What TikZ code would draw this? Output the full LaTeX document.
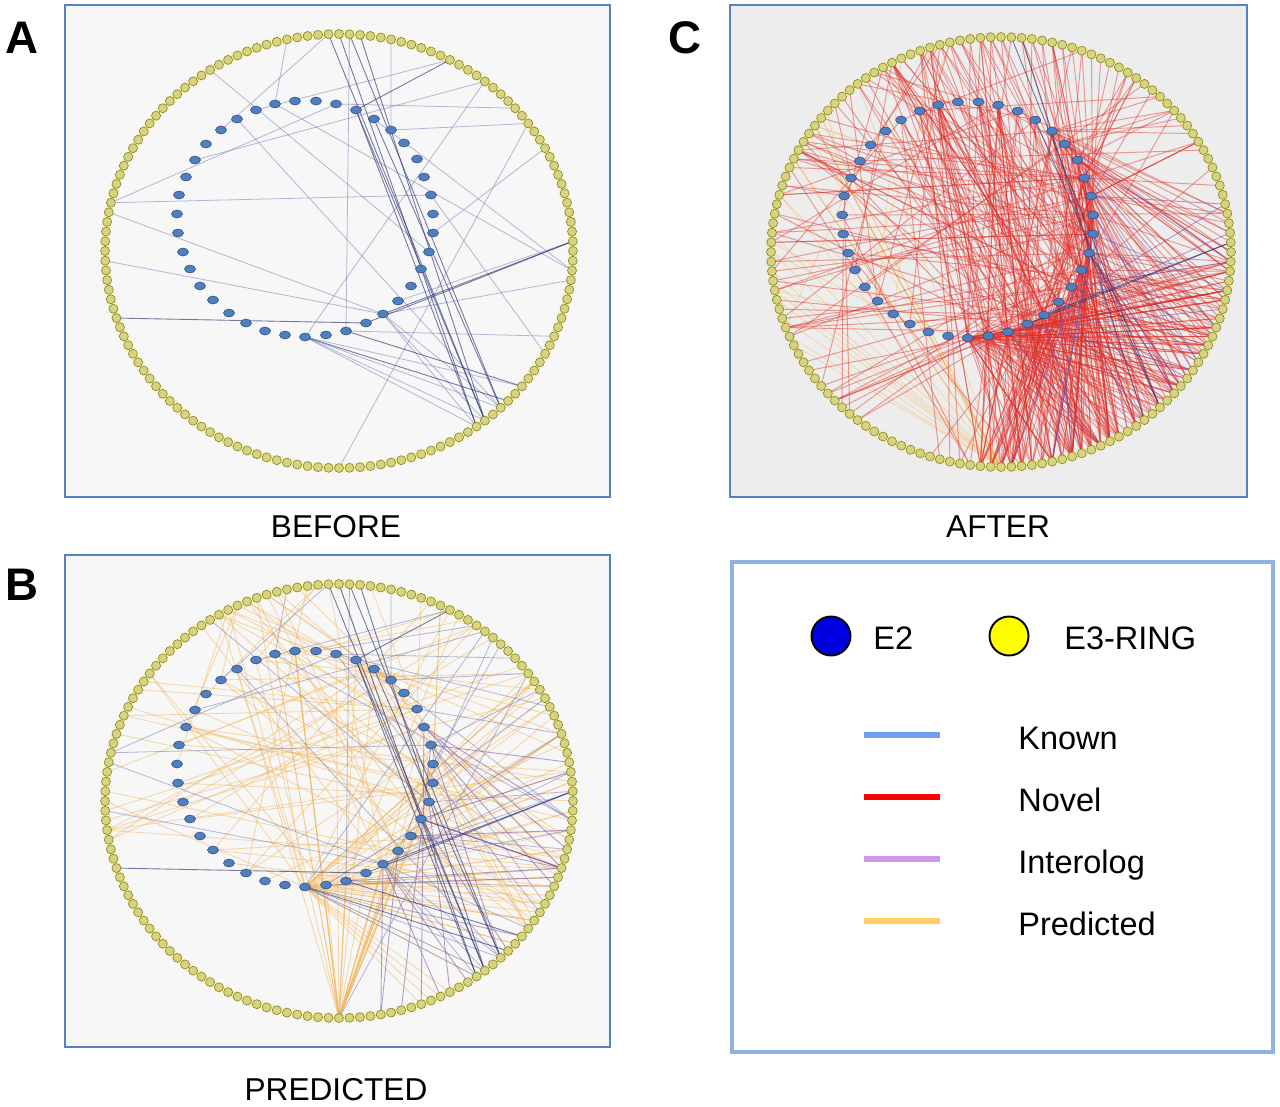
\documentclass[tikz,border=0pt]{standalone}
\usepackage{fontspec}
\setmainfont{Liberation Sans}
\usetikzlibrary{shapes.geometric}
\definecolor{boxc}{RGB}{84,130,192}
\definecolor{legc}{RGB}{142,180,227}
\definecolor{e3fill}{RGB}{216,212,124}
\definecolor{e3line}{RGB}{130,128,60}
\definecolor{e2fill}{RGB}{79,127,192}
\definecolor{e2line}{RGB}{45,75,125}
\definecolor{knownc}{RGB}{120,126,184}
\definecolor{knowndk}{RGB}{46,51,114}
\definecolor{novelc}{RGB}{226,46,40}
\definecolor{predc}{RGB}{243,182,90}
\definecolor{interc}{RGB}{122,79,160}
\definecolor{legblue}{RGB}{111,160,240}
\definecolor{legred}{RGB}{255,0,0}
\definecolor{legpurple}{RGB}{204,153,238}
\definecolor{legorange}{RGB}{255,204,102}
\definecolor{e2legend}{RGB}{0,0,224}
\definecolor{e3legend}{RGB}{255,255,0}
\tikzset{
  panelbox/.style={draw=boxc, line width=1.2pt},
  glow/.style={draw=yellow!75!white, line width=5pt, opacity=.35},
  e3dot/.style={circle, inner sep=0pt, minimum size=0.18cm, fill=e3fill, draw=e3line, line width=0.35pt},
  e2dot/.style={ellipse, inner sep=0pt, minimum width=0.22cm, minimum height=0.16cm, fill=e2fill, draw=e2line, line width=0.3pt},
  knownl/.style={draw=knownc, opacity=.55, line width=.45pt},
  knownd/.style={draw=knowndk, opacity=.65, line width=.5pt},
  novel/.style={draw=novelc, opacity=.45, line width=.55pt},
  pred/.style={draw=predc, opacity=.5, line width=.5pt},
  predl/.style={draw=predc, opacity=.4, line width=.5pt},
  inter/.style={draw=interc, opacity=.55, line width=.5pt},
  panellabel/.style={font=\bfseries\fontsize{26}{30}\selectfont, inner sep=0pt},
  caption/.style={font=\fontsize{18}{21}\selectfont, inner sep=0pt},
  legtext/.style={font=\fontsize{18.5}{22}\selectfont, anchor=base west, inner sep=0pt},
  legbar/.style={line width=3.4pt},
}
\def\innerlist{-102/-132,-83/-141,-64/-147,-44/-150,-23/-150,-3/-147,17/-141,35/-132,52/-121,65/-108,78/-92,85/-74,92/-56,94/-37,94/-18,90/1,82/18,72/35,59/50,44/63,27/72,7/80,-13/84,-34/86,-54/84,-74/80,-93/72,-110/62,-126/49,-139/35,-149/18,-156/1,-161/-18,-162/-37,-160/-56,-153/-74,-144/-91,-133/-107,-118/-121}
\def\Aedges{I39/O139,I24/O15,I3/O135,I9/O5,I2/O11,I37/O15,I6/O19,I9/O21,O70/O21,I15/O24,I19/O34,I8/O37,I3/O37,I20/O38,I22/O44,I13/O46,I24/O50,I24/O53,I24/O55,I24/O56,I20/O53,I20/O55,I20/O56,I13/O110,I6/O110,I20/O109,I20/O104,O127/I16,I22/O1,I1/O53}
\def\Adark{I7/O11,I20/O34,I21/O34,I21/O98,I7/O55,I7/O56,I8/O53,O139/O55,O0/O56,O1/O53,O2/O55,I22/O50,I24/O52}
\def\Cdark{I20/O34,I21/O34,O1/O53,O2/O55,I8/O53}
\newcommand\mkring[6]{%
  \foreach \dx/\dy [count=\i] in \innerlist {\coordinate (#1I\i) at ({#2+#6*\dx},{#3+\dy});}
  \foreach \k in {0,...,139} {\coordinate (#1O\k) at ({#2+#4*cos(-90+\k*18/7)},{#3+#5*sin(-90+\k*18/7)});}
}
\newcommand\drawdots[1]{%
  \foreach \k in {0,...,139} {\node[e3dot] (#1dotO\k) at (#1O\k) {};}
  \foreach \i in {1,...,39} {\node[e2dot] (#1dotI\i) at (#1I\i) {};}
}
\newcommand\knownedges[1]{%
  \foreach \a/\b in \Aedges {\draw[knownl] (#1\a) -- (#1\b);}
  \foreach \a/\b in \Adark {\draw[knownd] (#1\a) -- (#1\b);}
}
\begin{document}
\begin{tikzpicture}[x=0.02cm, y=-0.02cm]
\useasboundingbox[fill=white] (0,0) rectangle (1280,1106);
% panel frames
\filldraw[panelbox, fill=black!3] (65,5) rectangle (610,497);
\filldraw[panelbox, fill=black!3] (65,555) rectangle (610,1047);
\filldraw[panelbox, fill=black!7] (730,5) rectangle (1247,497);
% rings
\mkring{A}{339}{251}{234}{217}{1}
\mkring{B}{339}{801}{234}{217}{1}
\mkring{C}{1001}{252}{230}{215}{0.98}
\draw[glow] (339,251) ellipse [x radius=4.68cm, y radius=4.34cm];
\draw[glow] (339,801) ellipse [x radius=4.68cm, y radius=4.34cm];
\draw[glow] (1001,252) ellipse [x radius=4.6cm, y radius=4.3cm];
% ---- A edges
\knownedges{A}
% ---- B edges
\pgfmathsetseed{7}
\foreach \n in {1,...,30}{\pgfmathrandominteger{\kk}{22}{62}\draw[pred] (BI24) -- (BO\kk);}
\foreach \n in {1,...,30}{\pgfmathrandominteger{\ii}{1}{24}\draw[pred] (BO70) -- (BI\ii);}
\foreach \n in {1,...,80}{\pgfmathrandominteger{\ii}{1}{39}\pgfmathrandominteger{\rr}{-12}{50}\pgfmathtruncatemacro\kk{mod(\rr+140,140)}\draw[pred] (BI\ii) -- (BO\kk);}
\foreach \n in {1,...,30}{\pgfmathrandominteger{\ii}{8}{24}\pgfmathrandominteger{\kk}{100}{135}\draw[pred] (BI\ii) -- (BO\kk);}
\foreach \n in {1,...,22}{\pgfmathrandominteger{\ii}{12}{24}\pgfmathrandominteger{\kk}{30}{70}\draw[inter] (BI\ii) -- (BO\kk);}
\foreach \n in {1,...,12}{\pgfmathrandominteger{\ii}{5}{24}\pgfmathrandominteger{\kk}{0}{60}\draw[knownl] (BI\ii) -- (BO\kk);}
\knownedges{B}
% ---- C edges
\pgfmathsetseed{11}
\foreach \n in {1,...,22}{\pgfmathrandominteger{\kk}{95}{125}\draw[predl] (CO70) -- (CO\kk);}
\foreach \n in {1,...,12}{\pgfmathrandominteger{\ii}{25}{39}\pgfmathrandominteger{\kk}{95}{135}\draw[predl] (CI\ii) -- (CO\kk);}
\foreach \n in {1,...,220}{\pgfmathrandominteger{\ii}{16}{24}\pgfmathrandominteger{\kk}{36}{72}\draw[novel] (CI\ii) -- (CO\kk);}
\foreach \n in {1,...,80}{\pgfmathrandominteger{\ii}{1}{39}\pgfmathrandominteger{\kk}{0}{139}\draw[novel] (CI\ii) -- (CO\kk);}
\foreach \n in {1,...,60}{\pgfmathrandominteger{\ii}{9}{13}\pgfmathrandominteger{\kk}{10}{60}\draw[novel] (CI\ii) -- (CO\kk);}
\foreach \n in {1,...,70}{\pgfmathrandominteger{\kk}{58}{72}\pgfmathrandominteger{\ii}{1}{14}\draw[novel] (CO\kk) -- (CI\ii);}
\foreach \n in {1,...,60}{\pgfmathrandominteger{\kk}{85}{130}\pgfmathrandominteger{\ii}{12}{22}\draw[novel] (CO\kk) -- (CI\ii);}
\foreach \n in {1,...,60}{\pgfmathrandominteger{\rr}{-12}{10}\pgfmathtruncatemacro\kk{mod(\rr+140,140)}\pgfmathrandominteger{\ii}{14}{24}\draw[novel] (CO\kk) -- (CI\ii);}
\foreach \n in {1,...,25}{\pgfmathrandominteger{\ii}{10}{24}\pgfmathrandominteger{\kk}{25}{70}\draw[inter] (CI\ii) -- (CO\kk);}
\foreach \a/\b in \Cdark {\draw[knownd] (C\a) -- (C\b);}
% dots
\drawdots{A}
\drawdots{B}
\drawdots{C}
% labels
\node[panellabel] (labA) at (22,38) {A};
\node[panellabel] (labB) at (22,585) {B};
\node[panellabel] (labC) at (685,38) {C};
\node[caption] (capA) at (336,527) {BEFORE};
\node[caption] (capC) at (998,527) {AFTER};
\node[caption] (capB) at (336,1090) {PREDICTED};
% legend
\draw[draw=legc, line width=2.2pt] (732,562) rectangle (1273,1052);
\node[circle, minimum size=0.78cm, inner sep=0pt, fill=e2legend, draw=black, line width=1.1pt] (legE2) at (831,636) {};
\node[circle, minimum size=0.78cm, inner sep=0pt, fill=e3legend, draw=black, line width=1.1pt] (legE3) at (1009,636) {};
\node[legtext] (legE2t) at (873,649) {E2};
\node[legtext] (legE3t) at (1064,649) {E3-RING};
\coordinate (kb1) at (864,735); \coordinate (kb2) at (940,735);
\coordinate (nb1) at (864,797); \coordinate (nb2) at (940,797);
\coordinate (ib1) at (864,859); \coordinate (ib2) at (940,859);
\coordinate (pb1) at (864,921); \coordinate (pb2) at (940,921);
\draw[legbar, legblue] (kb1) -- (kb2);
\draw[legbar, legred] (nb1) -- (nb2);
\draw[legbar, legpurple] (ib1) -- (ib2);
\draw[legbar, legorange] (pb1) -- (pb2);
\node[legtext] (legK) at (1018,749) {Known};
\node[legtext] (legN) at (1018,811) {Novel};
\node[legtext] (legI) at (1018,873) {Interolog};
\node[legtext] (legP) at (1018,935) {Predicted};
\end{tikzpicture}
\end{document}
